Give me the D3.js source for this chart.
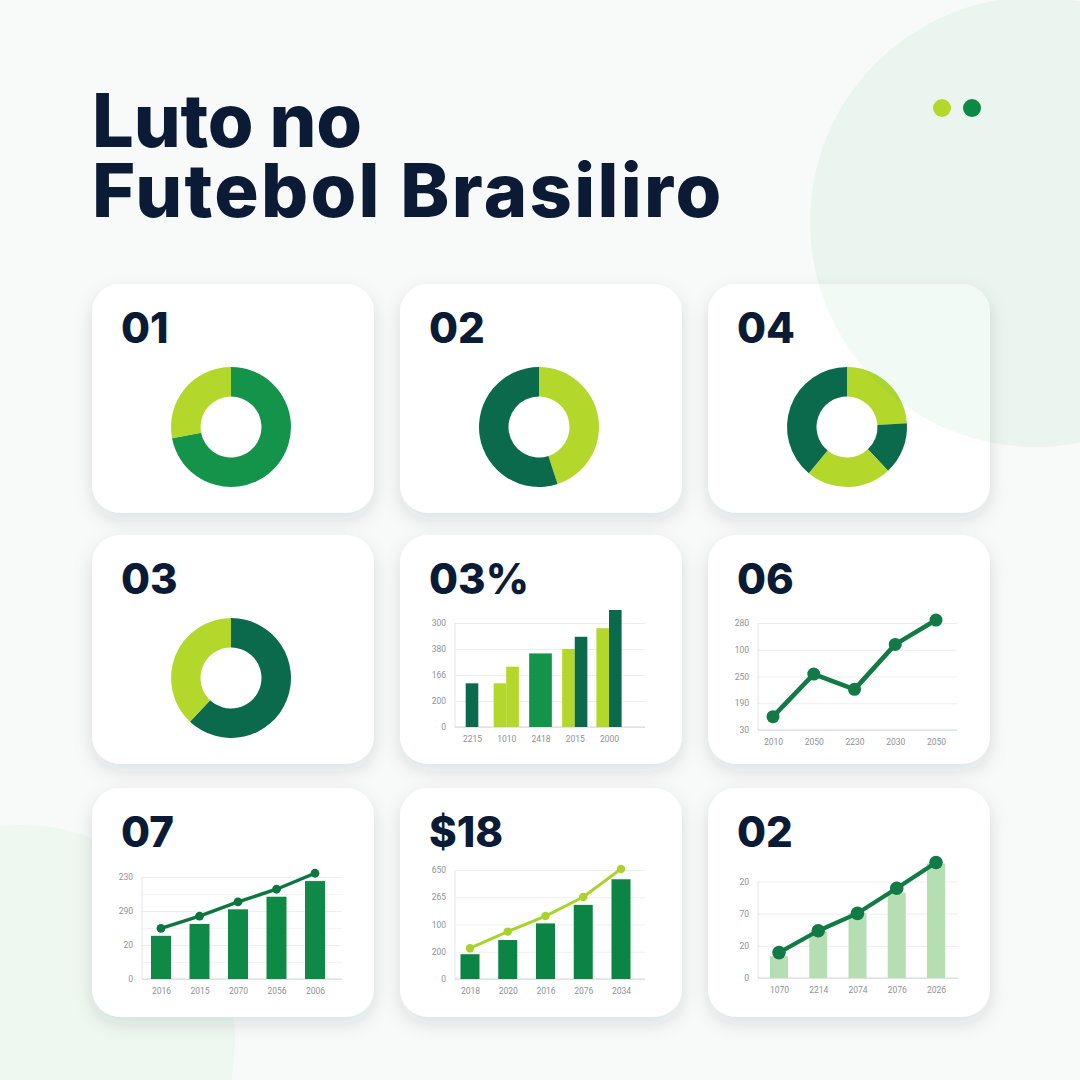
<!DOCTYPE html>
<html><head><meta charset="utf-8">
<script src="https://cdn.jsdelivr.net/npm/d3@7"></script>
<style>
html,body{margin:0;padding:0;background:#f8faf9;}
svg{display:block}
#title{position:absolute;left:92px;top:85px;width:900px;margin:0;white-space:pre;
  font-family:Inter,'Open Sans',Roboto,sans-serif;font-weight:800;font-size:74px;line-height:70px;
  color:#0b1b35;letter-spacing:2.3px;}
#title::first-line{letter-spacing:-0.2px;}
</style>
</head><body>
<svg id="c" width="1080" height="1080"></svg>
<div id="title"></div>
<script>
// ---------------- DATA ----------------
const titleLines = ["Luto no", "Futebol Brasiliro"];
const cardLabels = ["01", "02", "04", "03", "03%", "06", "07", "$18", "02"];

const donut01Values = [72, 28];          const donut01Series = ["green", "lime"];
const donut02Values = [45, 55];          const donut02Series = ["lime", "dark"];
const donut04Values = [24, 14, 23, 39];  const donut04Series = ["lime", "dark", "lime", "dark"];
const donut03Values = [62, 38];          const donut03Series = ["dark", "lime"];

const bar03Cats = ["2215", "1010", "2418", "2015", "2000"];
const bar03Values = [[168], [168, 232], [283], [300, 347], [380, 450]];
const bar03Series = [["dark"], ["lime", "lime"], ["green"], ["lime", "dark"], ["lime", "dark"]];
const bar03Ticks = [0, 100, 200, 300, 400];
const bar03TickLabels = ["0", "200", "166", "380", "300"];

const line06Cats = ["2010", "2050", "2230", "2030", "2050"];
const line06Values = [50, 209, 152, 320, 411];
const line06Ticks = [0, 100, 200, 300, 400];
const line06TickLabels = ["30", "190", "250", "100", "280"];

const combo07Cats = ["2016", "2015", "2070", "2056", "2006"];
const combo07Bars = [127, 162, 205, 242, 288];
const combo07Line = [149, 185, 227, 264, 311];
const combo07Ticks = [0, 100, 200, 300];
const combo07TickLabels = ["0", "20", "290", "230"];

const combo18Cats = ["2018", "2020", "2016", "2076", "2034"];
const combo18Bars = [91, 143, 204, 272, 366];
const combo18Line = [113, 174, 231, 301, 404];
const combo18Ticks = [0, 100, 200, 300, 400];
const combo18TickLabels = ["0", "200", "100", "265", "650"];

const combo02Cats = ["1070", "2214", "2074", "2076", "2026"];
const combo02Bars = [68, 144, 201, 265, 356];
const combo02Line = [79, 147, 201, 279, 359];
const combo02Ticks = [0, 100, 200, 300];
const combo02TickLabels = ["0", "20", "70", "20"];

// ---------------- STYLE ----------------
const C = {
  lime: "#b3d82b", green: "#13944a", dark: "#0b6a4b",
  navy: "#0b1b35", grid: "#eceeef", axis: "#d3d7da", tick: "#8d9297"
};
const FONT = "Inter, 'Open Sans', Roboto, sans-serif";

// title as one text node, two lines
d3.select("#title").text(titleLines.join("\n"));

const svg = d3.select("#c");
const defs = svg.append("defs");
const f = defs.append("filter").attr("id", "sh").attr("x", "-20%").attr("y", "-20%").attr("width", "140%").attr("height", "150%");
f.append("feDropShadow").attr("dx", 0).attr("dy", 7).attr("stdDeviation", 9)
  .attr("flood-color", "#1d3a2c").attr("flood-opacity", 0.12);

svg.append("rect").attr("width", 1080).attr("height", 1080).attr("fill", "#f8faf9");
svg.append("circle").attr("cx", 20).attr("cy", 1040).attr("r", 215).attr("fill", "#eff7f1");

// cards
const colX = [92, 400, 708], rowY = [284, 535, 788];
const CW = 282, CH = 229;
const cards = [];
for (let r = 0; r < 3; r++) for (let c = 0; c < 3; c++) {
  const g = svg.append("g").attr("transform", `translate(${colX[c]},${rowY[r]})`);
  g.append("rect").attr("width", CW).attr("height", CH).attr("rx", 28)
    .attr("fill", "#ffffff").attr("filter", "url(#sh)");
  g.append("text").attr("x", 29).attr("y", 59)
    .attr("font-family", FONT).attr("font-weight", 800).attr("font-size", 42)
    .attr("fill", C.navy).text(cardLabels[r * 3 + c]);
  cards.push(g);
}

// donuts
function donut(g, values, series) {
  const pie = d3.pie().sort(null).value(d => d)(values);
  const arc = d3.arc().innerRadius(30.5).outerRadius(60);
  g.append("g").attr("transform", "translate(139,143)")
    .selectAll("path").data(pie).join("path")
    .attr("d", arc).attr("fill", (d, i) => C[series[i]]);
}
donut(cards[0], donut01Values, donut01Series);
donut(cards[1], donut02Values, donut02Series);
donut(cards[2], donut04Values, donut04Series);
donut(cards[3], donut03Values, donut03Series);

// axes frame
function frame(g, x0, x1, y, ticks, tickLabels, x, cats, minor) {
  if (minor) {
    g.append("g").attr("transform", `translate(${x0},0)`)
      .call(d3.axisLeft(y).tickValues(minor).tickFormat("").tickSize(-(x1 - x0)))
      .call(a => a.select(".domain").remove())
      .call(a => a.selectAll("line").attr("stroke", "#f3f4f5"));
  }
  g.append("g").attr("transform", `translate(${x0},0)`)
    .call(d3.axisLeft(y).tickValues(ticks).tickFormat((d, i) => tickLabels[i]).tickSize(-(x1 - x0)).tickPadding(9))
    .call(a => a.select(".domain").remove())
    .call(a => a.selectAll("line").attr("stroke", C.grid))
    .call(a => a.selectAll("text").attr("fill", C.tick).attr("font-size", 8.5).attr("font-family", "Roboto, sans-serif"));
  g.append("line").attr("x1", x0).attr("x2", x0).attr("y1", y(ticks[ticks.length - 1])).attr("y2", y(0))
    .attr("stroke", "#e2e5e7");
  g.append("line").attr("x1", x0).attr("x2", x1).attr("y1", y(0)).attr("y2", y(0))
    .attr("stroke", C.axis).attr("stroke-width", 1.2);
  g.append("g").attr("transform", `translate(0,${y(0)})`)
    .call(d3.axisBottom(x).tickFormat(i => cats[i]).tickSize(0).tickPadding(9))
    .call(a => a.select(".domain").remove())
    .call(a => a.selectAll("text").attr("fill", C.tick).attr("font-size", 8.5).attr("font-family", "Roboto, sans-serif"));
}

// 03% grouped bars
(function () {
  const g = cards[4];
  const y = d3.scaleLinear().domain([0, 400]).range([192, 88]);
  const x = d3.scalePoint().domain(d3.range(bar03Cats.length)).range([72, 209]);
  frame(g, 55, 245, y, bar03Ticks, bar03TickLabels, x, bar03Cats);
  const slot = 12.6;
  const rects = [];
  bar03Values.forEach((vals, gi) => {
    vals.forEach((v, j) => {
      const s = bar03Series[gi][j];
      let bx, bw;
      if (vals.length === 2) { bx = x(gi) - slot + j * slot; bw = slot; }
      else if (s === "green") { bw = slot * 1.8; bx = x(gi) - bw / 2; }
      else { bw = slot; bx = x(gi) - bw / 2; }
      rects.push({ bx, bw, v, s });
    });
  });
  g.selectAll("rect.b").data(rects).join("rect").attr("class", "b")
    .attr("x", d => d.bx).attr("width", d => d.bw)
    .attr("y", d => y(d.v)).attr("height", d => y(0) - y(d.v))
    .attr("fill", d => C[d.s]);
})();

// 06 line
(function () {
  const g = cards[5];
  const y = d3.scaleLinear().domain([0, 400]).range([195, 88]);
  const x = d3.scalePoint().domain(d3.range(line06Cats.length)).range([65, 228]);
  frame(g, 50, 249, y, line06Ticks, line06TickLabels, x, line06Cats);
  g.append("path").datum(line06Values)
    .attr("d", d3.line().x((d, i) => x(i)).y(d => y(d)))
    .attr("fill", "none").attr("stroke", "#137a46").attr("stroke-width", 4.6).attr("stroke-linejoin", "round");
  g.selectAll("circle").data(line06Values).join("circle")
    .attr("cx", (d, i) => x(i)).attr("cy", d => y(d)).attr("r", 6.5).attr("fill", "#137a46");
})();

// combo charts
function combo(g, cfg) {
  const y = d3.scaleLinear().domain([0, cfg.top]).range([cfg.bottom, cfg.topY]);
  const x = d3.scalePoint().domain(d3.range(cfg.cats.length)).range(cfg.xr);
  frame(g, cfg.x0, cfg.x1, y, cfg.ticks, cfg.labels, x, cfg.cats, cfg.minor);
  g.selectAll("rect.b").data(cfg.bars).join("rect").attr("class", "b")
    .attr("x", (d, i) => x(i) - cfg.bw / 2).attr("width", cfg.bw)
    .attr("y", d => y(d)).attr("height", d => y(0) - y(d))
    .attr("fill", cfg.barColor);
  g.append("path").datum(cfg.line)
    .attr("d", d3.line().x((d, i) => x(i)).y(d => y(d)))
    .attr("fill", "none").attr("stroke", cfg.lineColor).attr("stroke-width", cfg.lw).attr("stroke-linejoin", "round");
  g.selectAll("circle").data(cfg.line).join("circle")
    .attr("cx", (d, i) => x(i)).attr("cy", d => y(d)).attr("r", cfg.r).attr("fill", cfg.lineColor);
}
combo(cards[6], { top: 300, bottom: 191, topY: 89, xr: [69, 223], x0: 50, x1: 250,
  ticks: combo07Ticks, labels: combo07TickLabels, cats: combo07Cats, minor: [50, 150, 250],
  bars: combo07Bars, line: combo07Line, bw: 20, barColor: "#0f8a46", lineColor: "#0d7640", lw: 3.4, r: 4.4 });
combo(cards[7], { top: 400, bottom: 191, topY: 82, xr: [70, 221], x0: 55, x1: 245,
  ticks: combo18Ticks, labels: combo18TickLabels, cats: combo18Cats,
  bars: combo18Bars, line: combo18Line, bw: 19, barColor: "#0b8444", lineColor: "#a9d32c", lw: 3, r: 4.2 });
combo(cards[8], { top: 300, bottom: 190, topY: 93.5, xr: [71, 228], x0: 50, x1: 250,
  ticks: combo02Ticks, labels: combo02TickLabels, cats: combo02Cats,
  bars: combo02Bars, line: combo02Line, bw: 18, barColor: "#b5deb3", lineColor: "#127a45", lw: 4.2, r: 6.8 });

// top-right translucent circle (over cards)
svg.append("circle").attr("cx", 1035).attr("cy", 222).attr("r", 225)
  .attr("fill", "#16a34a").attr("opacity", 0.055);

// dots
svg.append("circle").attr("cx", 942).attr("cy", 108).attr("r", 9).attr("fill", C.lime);
svg.append("circle").attr("cx", 972).attr("cy", 108).attr("r", 9).attr("fill", "#0a8a45");
</script>
</body></html>
